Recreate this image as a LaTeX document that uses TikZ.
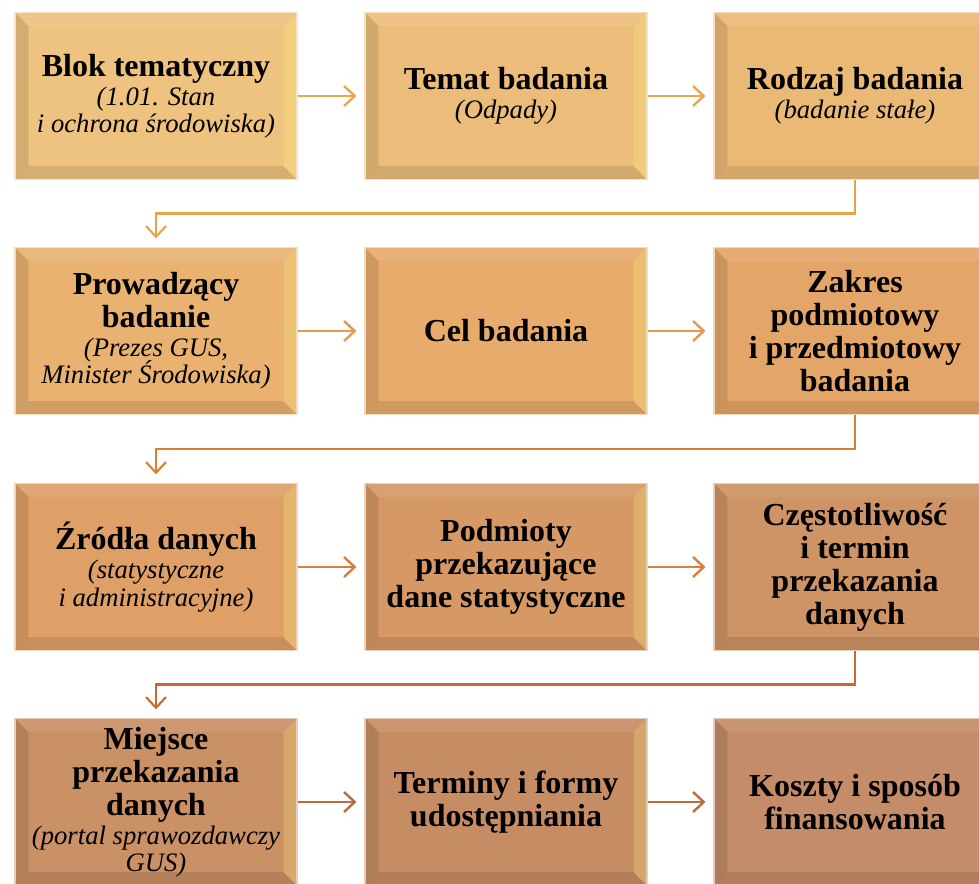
\documentclass[tikz,border=0pt]{standalone}
\usepackage{fontspec}
\setmainfont{Liberation Serif}
\usetikzlibrary{arrows.meta,calc}
\definecolor{cA}{HTML}{EEC27F}
\definecolor{cB}{HTML}{ECBD7A}
\definecolor{cC}{HTML}{EBB976}
\definecolor{cD}{HTML}{E9B271}
\definecolor{cE}{HTML}{E7AC6C}
\definecolor{cF}{HTML}{E4A668}
\definecolor{cG}{HTML}{DFA068}
\definecolor{cH}{HTML}{D69966}
\definecolor{cI}{HTML}{CF9465}
\definecolor{cJ}{HTML}{CA9066}
\definecolor{cK}{HTML}{C68D64}
\definecolor{cL}{HTML}{C48C68}
\definecolor{aA}{HTML}{E9A550}
\definecolor{eA}{HTML}{E8A24A}
\definecolor{aB}{HTML}{E29A4C}
\definecolor{eB}{HTML}{DA7E2E}
\definecolor{aC}{HTML}{D5803F}
\definecolor{eC}{HTML}{C86A30}
\definecolor{aD}{HTML}{BA6C3E}
\newcommand\subtx[1]{{\fontsize{20}{21}\selectfont\mdseries\itshape #1}}
\tikzset{
  bevbox/.style={rectangle, minimum width=211.5pt, minimum height=125.25pt,
    inner sep=0pt, align=center, fill=#1, draw=#1!45!white, line width=0.8pt,
    font=\fontsize{24}{24.75}\selectfont\bfseries,
    path picture={
      \coordinate (pNW) at (path picture bounding box.north west);
      \coordinate (pNE) at (path picture bounding box.north east);
      \coordinate (pSW) at (path picture bounding box.south west);
      \coordinate (pSE) at (path picture bounding box.south east);
      \fill[white,opacity=.08] (pNW) -- (pNE) -- ([shift={(-10pt,-10pt)}]pNE) -- ([shift={(10pt,-10pt)}]pNW) -- cycle;
      \fill[black,opacity=.10] (pSW) -- (pSE) -- ([shift={(-10pt,10pt)}]pSE) -- ([shift={(10pt,10pt)}]pSW) -- cycle;
      \fill[black,opacity=.11] (pNW) -- (pSW) -- ([shift={(10pt,10pt)}]pSW) -- ([shift={(10pt,-10pt)}]pNW) -- cycle;
      \fill[yellow!50!white,opacity=.24] (pNE) -- (pSE) -- ([shift={(-10pt,10pt)}]pSE) -- ([shift={(-10pt,-10pt)}]pNE) -- cycle;
    }},
  harrow/.style={draw=#1, line width=2pt, shorten >=6pt,
    -{Straight Barb[length=8pt,width=15pt,line width=1.8pt]}},
  elbow/.style={draw=#1, line width=1.6pt, shorten >=6.5pt,
    -{Straight Barb[length=8pt,width=15pt,line width=1.6pt]}}
}
\begin{document}
\begin{tikzpicture}[x=0.75pt,y=-0.75pt]
\useasboundingbox (0,0) rectangle (979,883);
\begin{scope}
\clip (0,0) rectangle (979,883);
\node[bevbox=cA] (b1) at (156,96) {Blok tematyczny\\[-3pt]\subtx{(1.01. Stan}\\[-4.25pt]\subtx{i ochrona środowiska)}};
\node[bevbox=cB] (b2) at (506,96) {Temat badania\\[-3pt]\subtx{(Odpady)}};
\node[bevbox=cC] (b3) at (855,96) {Rodzaj badania\\[-3pt]\subtx{(badanie stałe)}};
\node[bevbox=cD] (b4) at (156,331) {Prowadzący\\badanie\\[-3pt]\subtx{(Prezes GUS,}\\[-4.25pt]\subtx{Minister Środowiska)}};
\node[bevbox=cE] (b5) at (506,331) {Cel badania};
\node[bevbox=cF] (b6) at (855,331) {Zakres\\podmiotowy\\i przedmiotowy\\badania};
\node[bevbox=cG] (b7) at (156,567) {Źródła danych\\[-3pt]\subtx{(statystyczne}\\[-4.25pt]\subtx{i administracyjne)}};
\node[bevbox=cH] (b8) at (506,567) {Podmioty\\przekazujące\\dane statystyczne};
\node[bevbox=cI] (b9) at (855,567) {Częstotliwość\\i termin\\przekazania\\danych};
\node[bevbox=cJ] (b10) at (156,802) {Miejsce\\przekazania\\danych\\[-3pt]\subtx{(portal sprawozdawczy}\\[-4.25pt]\subtx{GUS)}};
\node[bevbox=cK] (b11) at (506,802) {Terminy i formy\\udostępniania};
\node[bevbox=cL] (b12) at (855,802) {Koszty i sposób\\finansowania};
\end{scope}
\draw[harrow=aA] (b1.east) -- (b2.west);
\draw[harrow=aA] (b2.east) -- (b3.west);
\draw[harrow=aB] (b4.east) -- (b5.west);
\draw[harrow=aB] (b5.east) -- (b6.west);
\draw[harrow=aC] (b7.east) -- (b8.west);
\draw[harrow=aC] (b8.east) -- (b9.west);
\draw[harrow=aD] (b10.east) -- (b11.west);
\draw[harrow=aD] (b11.east) -- (b12.west);
\draw[elbow=eA] (b3.south) |- ($(b3.south)!.5!(b4.north)$) -| (b4.north);
\draw[elbow=eB] (b6.south) |- ($(b6.south)!.5!(b7.north)$) -| (b7.north);
\draw[elbow=eC] (b9.south) |- ($(b9.south)!.5!(b10.north)$) -| (b10.north);
\end{tikzpicture}
\end{document}
